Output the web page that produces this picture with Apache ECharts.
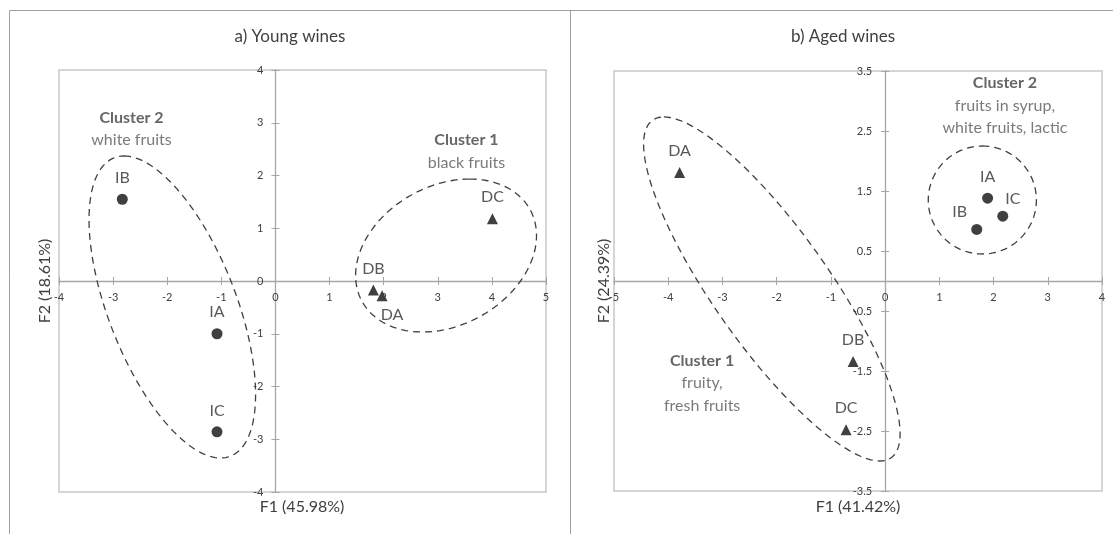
<!DOCTYPE html>
<html>
<head>
<meta charset="utf-8">
<title>PCA of wine aroma profiles</title>
<script src="https://cdn.jsdelivr.net/npm/echarts@6/dist/echarts.min.js"></script>
<style>
  html, body { margin: 0; padding: 0; background: #ffffff; }
  #chart { width: 1113px; height: 534px; }
</style>
</head>
<body>
<div id="chart"></div>
<script>
// ---- Panel a) young wines: sample scores on F1 / F2 ----
const youngNames = ['IA', 'IB', 'IC', 'DA', 'DB', 'DC'];
const youngF1 = [-1.08, -2.83, -1.08, 1.97, 1.81, 4.01];
const youngF2 = [-1.00, 1.55, -2.86, -0.28, -0.17, 1.18];

// ---- Panel b) aged wines ----
const agedNames = ['IA', 'IB', 'IC', 'DA', 'DB', 'DC'];
const agedF1 = [1.89, 1.69, 2.17, -3.79, -0.59, -0.72];
const agedF2 = [1.38, 0.86, 1.08, 1.81, -1.34, -2.48];

// Axis titles, ranges and tick values
const youngAxisNames = ['F1 (45.98%)', 'F2 (18.61%)'];
const agedAxisNames = ['F1 (41.42%)', 'F2 (24.39%)'];
const youngF1Range = [-4, 5];
const youngF2Range = [-4, 4];
const agedF1Range = [-5, 4];
const agedF2Range = [-3.5, 3.5];
const agedF2Ticks = [-3.5, -2.5, -1.5, -0.5, 0.5, 1.5, 2.5, 3.5];

// Cluster outlines in data units: centre (x, y), then two conjugate half-axis vectors
const youngClusterShapes = [
  [-1.906, -0.493, -0.891, 2.863, 1.255, 0],
  [3.153, 0.483, 0.436, 1.450, 1.614, 0]
];
const agedClusterShapes = [
  [1.793, 1.35, 0, 0.9, 0.997, 0],
  [-2.089, -0.133, -1.990, 2.867, 1.279, 0]
];

// Cluster captions: heading, description lines, anchor (x, y)
const youngClusterTitles = ['Cluster 2', 'Cluster 1'];
const youngClusterNotes = [['white fruits'], ['black fruits']];
const youngClusterAnchors = [[-2.66, 2.88], [3.53, 2.46]];
const agedClusterTitles = ['Cluster 2', 'Cluster 1'];
const agedClusterNotes = [['fruits in syrup,', 'white fruits, lactic'], ['fruity,', 'fresh fruits']];
const agedClusterAnchors = [[2.21, 2.92], [-3.375, -1.70]];

const FONT = 'Lato, "Liberation Sans", sans-serif';
const DARK = '#404040';
const MID = '#595959';
const AXIS = '#a6a6a6';

// plot rectangles of the two panels (pixels)
const GRIDS = [
  { left: 59, top: 70, width: 487, height: 422 },
  { left: 614, top: 71, width: 488, height: 420 }
];

// per-label placement tweaks (style only)
const youngLabelPlace = { DA: { position: 'bottom', distance: 6, offset: [10, 0] } };
const agedLabelPlace = {
  IC: { position: 'top', distance: 4, offset: [10, 0] },
  IB: { position: 'top', distance: 4, offset: [-17, 0] }
};

function pointSeries(names, xs, ys, gridIdx, prefix, symbol, place) {
  const data = [];
  names.forEach(function (n, i) {
    if (n.charAt(0) !== prefix) return;
    const p = place[n] || {};
    data.push({
      name: n,
      value: [xs[i], ys[i]],
      label: {
        position: p.position || 'top',
        distance: p.distance != null ? p.distance : 8,
        offset: p.offset || [0, 0]
      }
    });
  });
  return {
    type: 'scatter',
    xAxisIndex: gridIdx * 2,
    yAxisIndex: gridIdx * 2,
    symbol: symbol,
    symbolSize: 11,
    itemStyle: { color: DARK, opacity: 1 },
    label: { show: true, formatter: '{b}', color: MID, fontFamily: FONT, fontSize: 16 },
    emphasis: { disabled: true },
    data: data,
    z: 5
  };
}

function ellipseSeries(shapes, gridIdx) {
  return {
    type: 'custom',
    xAxisIndex: gridIdx * 2,
    yAxisIndex: gridIdx * 2,
    encode: { x: 0, y: 1 },
    silent: true,
    clip: false,
    data: shapes,
    renderItem: function (params, api) {
      const cx = api.value(0), cy = api.value(1);
      const ax = api.value(2), ay = api.value(3);
      const bx = api.value(4), by = api.value(5);
      const pts = [];
      const N = 160;
      for (let i = 0; i < N; i++) {
        const t = (i / N) * Math.PI * 2;
        const c = Math.cos(t), s = Math.sin(t);
        pts.push(api.coord([cx + ax * c + bx * s, cy + ay * c + by * s]));
      }
      return {
        type: 'polygon',
        shape: { points: pts },
        style: { fill: 'none', stroke: DARK, lineWidth: 1.3, lineDash: [7, 5] }
      };
    },
    z: 3
  };
}

function captionSeries(titles, notes, anchors, gridIdx) {
  return {
    type: 'scatter',
    xAxisIndex: gridIdx * 2,
    yAxisIndex: gridIdx * 2,
    symbolSize: 0,
    silent: true,
    label: {
      show: true,
      position: 'inside',
      align: 'center',
      verticalAlign: 'middle',
      formatter: function (p) {
        const i = p.dataIndex;
        return ['{h|' + titles[i] + '}'].concat(notes[i].map(function (t) { return '{n|' + t + '}'; })).join('\n');
      },
      rich: {
        h: { fontFamily: FONT, fontSize: 16, fontWeight: 'bold', color: DARK, lineHeight: 22.5, align: 'center' },
        n: { fontFamily: FONT, fontSize: 16, color: MID, lineHeight: 22.5, align: 'center' }
      }
    },
    data: anchors.map(function (a, i) { return { name: titles[i], value: a }; }),
    z: 4
  };
}

// Each dimension gets a labelled axis with outward ticks and a bare twin with inward
// ticks, both shifted from the plot edge to the other variable's zero.
function axisPair(dim, gridIdx, range, otherRange, custom, labelMargin) {
  const g = GRIDS[gridIdx];
  const span = dim === 'x' ? g.height : g.width;
  const shift = -span * (0 - otherRange[0]) / (otherRange[1] - otherRange[0]);
  function make(inside) {
    const ax = {
      type: 'value',
      gridIndex: gridIdx,
      position: dim === 'x' ? 'bottom' : 'left',
      offset: shift,
      min: range[0],
      max: range[1],
      splitLine: { show: false },
      axisLine: { show: !inside, onZero: false, lineStyle: { color: AXIS, width: 1.3 } },
      axisTick: { show: true, inside: inside, length: 4, lineStyle: { color: AXIS, width: 1 } },
      axisLabel: inside ? { show: false } : {
        show: true, color: DARK, fontFamily: FONT, fontSize: 11, margin: labelMargin,
        showMinLabel: true, showMaxLabel: true, hideOverlap: false
      }
    };
    if (custom) {
      ax.axisTick.customValues = custom;
      if (!inside) ax.axisLabel.customValues = custom;
    } else {
      ax.interval = 1;
    }
    return ax;
  }
  return [make(false), make(true)];
}

const xAxes = axisPair('x', 0, youngF1Range, youngF2Range, null, 11)
  .concat(axisPair('x', 1, agedF1Range, agedF2Range, null, 11));
const yAxes = axisPair('y', 0, youngF2Range, youngF1Range, null, 12)
  .concat(axisPair('y', 1, agedF2Range, agedF1Range, agedF2Ticks, 13));

const chart = echarts.init(document.getElementById('chart'), null, { renderer: 'canvas' });
chart.setOption({
  animation: false,
  backgroundColor: '#ffffff',
  grid: GRIDS.map(function (g) {
    return Object.assign({ show: true, borderColor: '#c8c8c8', borderWidth: 1.5, backgroundColor: 'transparent' }, g);
  }),
  xAxis: xAxes,
  yAxis: yAxes,
  graphic: [
    { type: 'rect', shape: { x: 9.5, y: 10.5, width: 561, height: 540 }, style: { fill: 'none', stroke: '#a0a0a0', lineWidth: 1 }, silent: true },
    { type: 'rect', shape: { x: 570.5, y: 10.5, width: 560, height: 540 }, style: { fill: 'none', stroke: '#a0a0a0', lineWidth: 1 }, silent: true },
    { type: 'text', x: 290, y: 37, style: { text: 'a) Young wines', fill: DARK, font: '17px ' + FONT, textAlign: 'center', textVerticalAlign: 'middle' }, silent: true },
    { type: 'text', x: 843, y: 37, style: { text: 'b) Aged wines', fill: DARK, font: '17px ' + FONT, textAlign: 'center', textVerticalAlign: 'middle' }, silent: true },
    { type: 'text', x: 302, y: 507, style: { text: youngAxisNames[0], fill: DARK, font: '16px ' + FONT, textAlign: 'center', textVerticalAlign: 'middle' }, silent: true },
    { type: 'text', x: 858, y: 507, style: { text: agedAxisNames[0], fill: DARK, font: '16px ' + FONT, textAlign: 'center', textVerticalAlign: 'middle' }, silent: true },
    { type: 'text', x: 45, y: 281, rotation: Math.PI / 2, style: { text: youngAxisNames[1], fill: DARK, font: '16px ' + FONT, textAlign: 'center', textVerticalAlign: 'middle' }, silent: true },
    { type: 'text', x: 604, y: 281, rotation: Math.PI / 2, style: { text: agedAxisNames[1], fill: DARK, font: '16px ' + FONT, textAlign: 'center', textVerticalAlign: 'middle' }, silent: true }
  ],
  series: [
    ellipseSeries(youngClusterShapes, 0),
    captionSeries(youngClusterTitles, youngClusterNotes, youngClusterAnchors, 0),
    pointSeries(youngNames, youngF1, youngF2, 0, 'I', 'circle', youngLabelPlace),
    pointSeries(youngNames, youngF1, youngF2, 0, 'D', 'triangle', youngLabelPlace),
    ellipseSeries(agedClusterShapes, 1),
    captionSeries(agedClusterTitles, agedClusterNotes, agedClusterAnchors, 1),
    pointSeries(agedNames, agedF1, agedF2, 1, 'I', 'circle', agedLabelPlace),
    pointSeries(agedNames, agedF1, agedF2, 1, 'D', 'triangle', agedLabelPlace)
  ]
});
</script>
</body>
</html>
